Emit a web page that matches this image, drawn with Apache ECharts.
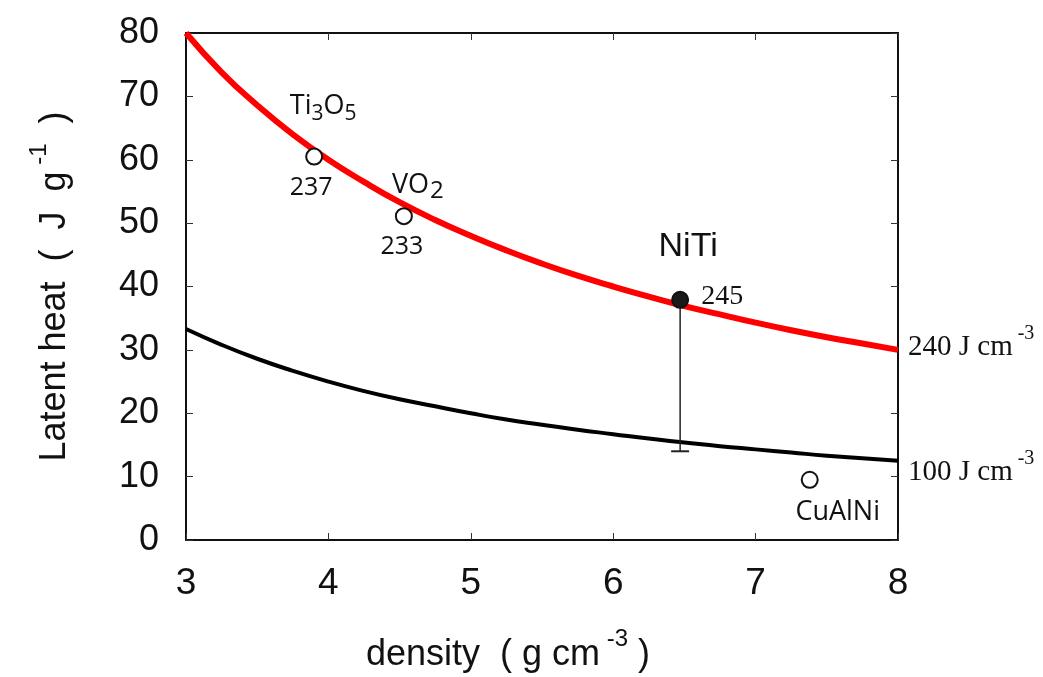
<!DOCTYPE html>
<html>
<head>
<meta charset="utf-8">
<script src="https://cdn.jsdelivr.net/npm/echarts@6/dist/echarts.min.js"></script>
<style>
  html, body { margin: 0; padding: 0; background: #fff; }
  #chart { width: 1043px; height: 677px; }
</style>
</head>
<body>
<div id="chart"></div>
<script>
// Density grid (g cm^-3) shared by both constant-energy curves
const densityGrid = [3, 3.25, 3.5, 3.75, 4, 4.25, 4.5, 4.75, 5, 5.25, 5.5, 5.75, 6, 6.25, 6.5, 6.75, 7, 7.25, 7.5, 7.75, 8];
// Latent heat (J g^-1) along the 240 J cm^-3 curve
const curve240 = [80, 73.8, 68.6, 64, 60, 56.5, 53.3, 50.5, 48, 45.7, 43.6, 41.7, 40, 38.4, 36.9, 35.6, 34.3, 33.1, 32, 31, 30];
// Latent heat (J g^-1) along the 100 J cm^-3 curve
const curve100 = [33.3, 30.8, 28.6, 26.7, 25, 23.5, 22.2, 21.1, 20, 19, 18.2, 17.4, 16.7, 16, 15.4, 14.8, 14.3, 13.8, 13.3, 12.9, 12.5];

// Materials: density, latent heat, volumetric latent heat (J cm^-3)
const materials = ['Ti3O5', 'VO2', 'NiTi', 'CuAlNi'];
const materialDensity = [3.9, 4.53, 6.47, 7.38];
const materialHeat = [60.5, 51.1, 37.9, 9.5];
const materialVolHeat = ['237', '233', '245', ''];
// NiTi range bar: density, upper and lower latent heat
const nitiRange = [6.47, 37.9, 14.0];

const xTicks = { min: 3, max: 8, interval: 1 };
const yTicks = { min: 0, max: 80, interval: 10 };

const sansLabel = '"Open Sans", "Noto Sans", sans-serif';
const arial = '"Liberation Sans", Arial, sans-serif';
const serif = '"Liberation Serif", "Times New Roman", serif';

const chart = echarts.init(document.getElementById('chart'));

const nameRich = {
  base: { fontFamily: sansLabel, fontSize: 27, color: '#111', lineHeight: 36 },
  sub: { fontFamily: sansLabel, fontSize: 21, color: '#111', verticalAlign: 'bottom', lineHeight: 36, padding: [10, 0, 0, 0] },
  sub2: { fontFamily: sansLabel, fontSize: 24, color: '#111', verticalAlign: 'bottom', lineHeight: 36, padding: [10, 0, 0, 1] },
  big: { fontFamily: arial, fontSize: 34, color: '#111' }
};

const nameLabels = {
  'Ti3O5': { text: '{base|Ti}{sub|3}{base|O}{sub|5}', offset: [9, -50] },
  'VO2': { text: '{base|VO}{sub2|2}', offset: [14, -31] },
  'NiTi': { text: '{big|NiTi}', offset: [8, -53] },
  'CuAlNi': { text: '{base|CuAlNi}', offset: [28, 33] }
};
const valueOffsets = [[-3, 31], [-2, 31], [42, -3], [0, 0]];

const pointData = materials.map((m, i) => {
  const filled = m === 'NiTi';
  return {
    name: m,
    value: [materialDensity[i], materialHeat[i]],
    symbolSize: 16,
    itemStyle: {
      color: filled ? '#1a1a1a' : '#fff',
      borderColor: '#111',
      borderWidth: 2,
      opacity: 1
    },
    label: {
      show: true,
      position: 'inside',
      align: 'center',
      verticalAlign: 'middle',
      offset: nameLabels[m].offset,
      formatter: nameLabels[m].text,
      color: '#111',
      opacity: 1,
      textBorderWidth: 0,
      rich: nameRich
    }
  };
});

const valueData = materials.map((m, i) => ({
  name: m,
  value: [materialDensity[i], materialHeat[i]],
  label: {
    show: materialVolHeat[i] !== '',
    position: 'inside',
    align: 'center',
    verticalAlign: 'middle',
    offset: valueOffsets[i],
    formatter: materialVolHeat[i],
    fontFamily: m === 'NiTi' ? serif : sansLabel,
    fontSize: m === 'NiTi' ? 28 : 25,
    color: '#111',
    opacity: 1,
    textBorderWidth: 0
  }
}));

const endRich = {
  t: { fontFamily: serif, fontSize: 29, color: '#111', lineHeight: 38, verticalAlign: 'bottom' },
  sup: { fontFamily: serif, fontSize: 20, color: '#111', lineHeight: 38, verticalAlign: 'top', padding: [0, 0, 10, 0] }
};

const titleRich = {
  t: { fontFamily: arial, fontSize: 36, color: '#111', lineHeight: 46, verticalAlign: 'bottom' },
  sup: { fontFamily: arial, fontSize: 24, color: '#111', lineHeight: 46, verticalAlign: 'top', padding: [0, 0, 14, 0] }
};

const axisLineStyle = { color: '#111', width: 2 };
const tickStyle = { color: '#333', width: 1 };

const option = {
  backgroundColor: '#fff',
  animation: false,
  grid: { left: 186, right: 145, top: 33, bottom: 137, show: false, outerBoundsMode: 'none', containLabel: false },
  xAxis: [
    {
      type: 'value', position: 'bottom',
      min: xTicks.min, max: xTicks.max, interval: xTicks.interval,
      axisLine: { show: true, onZero: false, lineStyle: axisLineStyle },
      axisTick: { show: true, inside: true, length: 7, lineStyle: tickStyle },
      splitLine: { show: false },
      axisLabel: { fontFamily: arial, fontSize: 37, color: '#111', margin: 25 },
      name: '{t|density  ( g cm}{sup| -3}{t| )}',
      nameLocation: 'middle',
      nameGap: 87,
      nameTextStyle: { rich: titleRich, padding: [0, 68, 0, 0] }
    },
    {
      type: 'value', position: 'top',
      min: xTicks.min, max: xTicks.max, interval: xTicks.interval,
      axisLine: { show: true, onZero: false, lineStyle: axisLineStyle },
      axisTick: { show: true, inside: true, length: 7, lineStyle: tickStyle },
      splitLine: { show: false },
      axisLabel: { show: false }
    }
  ],
  yAxis: [
    {
      type: 'value', position: 'left',
      min: yTicks.min, max: yTicks.max, interval: yTicks.interval,
      axisLine: { show: true, onZero: false, lineStyle: axisLineStyle },
      axisTick: { show: true, inside: true, length: 7, lineStyle: tickStyle },
      splitLine: { show: false },
      axisLabel: { fontFamily: arial, fontSize: 36, color: '#111', margin: 27 },
      name: '{t|Latent heat  (  J  g}{sup| -1}{t|  )}',
      nameLocation: 'middle',
      nameGap: 113,
      nameRotate: 90,
      nameTextStyle: { rich: titleRich }
    },
    {
      type: 'value', position: 'right',
      min: yTicks.min, max: yTicks.max, interval: yTicks.interval,
      axisLine: { show: true, onZero: false, lineStyle: axisLineStyle },
      axisTick: { show: true, inside: true, length: 7, lineStyle: tickStyle },
      splitLine: { show: false },
      axisLabel: { show: false }
    }
  ],
  series: [
    {
      name: '100 J cm-3',
      type: 'line',
      smooth: true,
      symbol: 'none',
      data: densityGrid.map((d, i) => [d, curve100[i]]),
      lineStyle: { color: '#000', width: 4 },
      endLabel: {
        show: true,
        distance: 10,
        offset: [0, 7],
        formatter: '{t|100 J cm}{sup| -3}',
        rich: endRich
      },
      z: 2
    },
    {
      name: '240 J cm-3',
      type: 'line',
      smooth: true,
      symbol: 'none',
      data: densityGrid.map((d, i) => [d, curve240[i]]),
      lineStyle: { color: '#ff0000', width: 6 },
      endLabel: {
        show: true,
        distance: 10,
        offset: [0, -7],
        formatter: '{t|240 J cm}{sup| -3}',
        rich: endRich
      },
      z: 3
    },
    {
      name: 'NiTi range',
      type: 'custom',
      data: [nitiRange],
      renderItem: (params, api) => {
        const top = api.coord([api.value(0), api.value(1)]);
        const bottom = api.coord([api.value(0), api.value(2)]);
        return {
          type: 'group',
          children: [
            { type: 'line', shape: { x1: top[0], y1: top[1], x2: bottom[0], y2: bottom[1] }, style: { stroke: '#222', lineWidth: 1.5 } },
            { type: 'line', shape: { x1: bottom[0] - 9, y1: bottom[1], x2: bottom[0] + 9, y2: bottom[1] }, style: { stroke: '#222', lineWidth: 2 } }
          ]
        };
      },
      z: 4
    },
    {
      name: 'materials',
      type: 'scatter',
      itemStyle: { opacity: 1 },
      data: pointData,
      z: 5
    },
    {
      name: 'volumetric latent heat',
      type: 'scatter',
      symbolSize: 0,
      itemStyle: { opacity: 1 },
      data: valueData,
      z: 6
    }
  ]
};

chart.setOption(option);
</script>
</body>
</html>
